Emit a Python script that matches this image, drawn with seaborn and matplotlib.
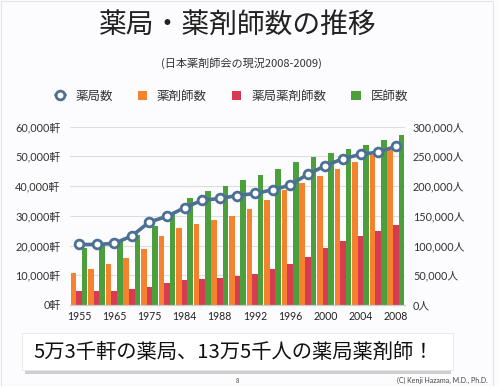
import matplotlib
matplotlib.use('Agg')
import matplotlib.pyplot as plt
from matplotlib.patches import Rectangle
import seaborn as sns
import pandas as pd
import numpy as np

years = ['1955', '1960', '1965', '1970', '1975', '1980', '1984', '1986', '1988', '1990',
         '1992', '1994', '1996', '1998', '2000', '2002', '2004', '2006', '2008']
shops = [20350, 20350, 20700, 23200, 27900, 29800, 32700, 35200, 35800, 36800,
         37500, 38700, 40300, 44000, 46800, 49200, 50600, 51400, 53300]
pharmacists = [53100, 60300, 68700, 79300, 93900, 116200, 130200, 135300, 143000, 149500,
               161500, 176000, 192700, 205000, 216700, 229100, 240200, 251400, 259800]
shop_pharmacists = [23500, 23500, 23500, 27300, 30700, 36300, 41400, 43100, 45300, 48600,
                    51600, 60800, 68700, 81000, 95000, 107300, 115600, 124600, 135000]
doctors = [95000, 101700, 107800, 117300, 132400, 153700, 180500, 191100, 200800, 210700,
           219000, 229100, 240200, 248600, 255300, 261500, 269300, 276500, 286100]

series_names = ['薬剤師数', '薬局薬剤師数', '医師数']
bar_colors = ['#F5822E', '#D83A52', '#4BA03C']
line_color = '#4C6F94'

bars_df = pd.DataFrame({
    'year': years * 3,
    'value': pharmacists + shop_pharmacists + doctors,
    'series': [s for s in series_names for _ in years],
})

sns.set_style('white')
plt.rcParams['font.family'] = ['Noto Sans CJK JP', 'DejaVu Sans']
tick_fonts = ['Lato', 'Noto Sans CJK JP']

fig = plt.figure(figsize=(4.98, 3.86), dpi=100, facecolor='#fcfbfd')
ax = fig.add_axes([70.2 / 498, 1 - 305 / 386, 334.4 / 498, 178.5 / 386])
ax.set_facecolor('none')

sns.barplot(data=bars_df, x='year', y='value', hue='series', hue_order=series_names,
            palette=bar_colors, saturation=1, width=0.95, linewidth=0, ax=ax)
bar_handles, bar_labels = ax.get_legend_handles_labels()
ax.get_legend().remove()

ax2 = ax.twinx()
sns.lineplot(x=np.arange(len(years)), y=shops, ax=ax2, color=line_color, linewidth=2.6,
             marker='o', markersize=6.3, markerfacecolor='white', markeredgecolor=line_color,
             markeredgewidth=2, label='薬局数')
line_handles, line_labels = ax2.get_legend_handles_labels()
ax2.get_legend().remove()

ax.set_ylim(0, 300000)
ax2.set_ylim(0, 60000)
ax.set_xlim(-0.5, len(years) - 0.5)
ax.set_yticks(range(0, 300001, 50000))
ax2.set_yticks(range(0, 60001, 10000))
ax.yaxis.tick_right()
ax2.yaxis.tick_left()
ax.set_yticklabels([f'{v:,}人' for v in range(0, 300001, 50000)], family=tick_fonts,
                   fontsize=7.8, color='#333333')
ax2.set_yticklabels([f'{v:,}軒' for v in range(0, 60001, 10000)], family=tick_fonts,
                    fontsize=7.8, color='#333333')
ax.set_xticks(range(0, len(years), 2))
ax.set_xticklabels(years[::2], family=tick_fonts, fontsize=7.6, color='#222222')
ax.tick_params(axis='y', length=0, pad=6)
ax2.tick_params(axis='y', length=0, pad=7)
ax.tick_params(axis='x', length=0, pad=4)
ax.set_xlabel('')
ax.set_ylabel('')
ax2.set_ylabel('')
ax.yaxis.grid(True, color='#dddddd', linewidth=0.8)
ax.set_axisbelow(True)
for a in (ax, ax2):
    for side in ('top', 'left', 'right'):
        a.spines[side].set_visible(False)
    a.spines['bottom'].set_color('#cccccc')
    a.spines['bottom'].set_linewidth(0.8)

fig.text(238 / 498, 1 - 25 / 386, '薬局・薬剤師数の推移', ha='center', va='center',
         fontsize=20, color='#222222')
fig.text(241 / 498, 1 - 63 / 386, '(日本薬剤師会の現況2008-2009)', ha='center', va='center',
         fontsize=8, color='#333333')

fig.legend(line_handles + bar_handles, line_labels + bar_labels, ncol=4, loc='center',
           bbox_to_anchor=(232 / 498, 1 - 96 / 386), frameon=False, fontsize=9,
           handlelength=0.75, handleheight=0.75, handletextpad=0.8, columnspacing=2.0,
           labelcolor='#333333')

# bottom banner with shadow
fig.patches.append(Rectangle((25 / 498, 1 - 374 / 386), 426 / 498, 5 / 386,
                             transform=fig.transFigure, facecolor='#9a9a9a', alpha=0.45,
                             edgecolor='none', zorder=1))
fig.patches.append(Rectangle((22 / 498, 1 - 370 / 386), 431 / 498, 37 / 386,
                             transform=fig.transFigure, facecolor='white',
                             edgecolor='#e6e6e6', linewidth=0.6, zorder=2))
fig.text(234 / 498, 1 - 352 / 386, '5万3千軒の薬局、13万5千人の薬局薬剤師！', ha='center',
         va='center', fontsize=14.6, color='#111111', zorder=3)
fig.text(237 / 498, 1 - 381 / 386, '8', ha='center', va='center', fontsize=4.5, color='#444444')
fig.text(488 / 498, 1 - 380 / 386, '(C) Kenji Hazama, M.D., Ph.D.', ha='right', va='center',
         fontsize=5, color='#444444', family=tick_fonts)

# thin frame
fig.patches.append(Rectangle((1 / 498, 0), 492 / 498, 385 / 386, transform=fig.transFigure,
                             facecolor='none', edgecolor='#e4e4e4', linewidth=0.8))

fig.savefig('out.png', dpi=100, facecolor=fig.get_facecolor())
